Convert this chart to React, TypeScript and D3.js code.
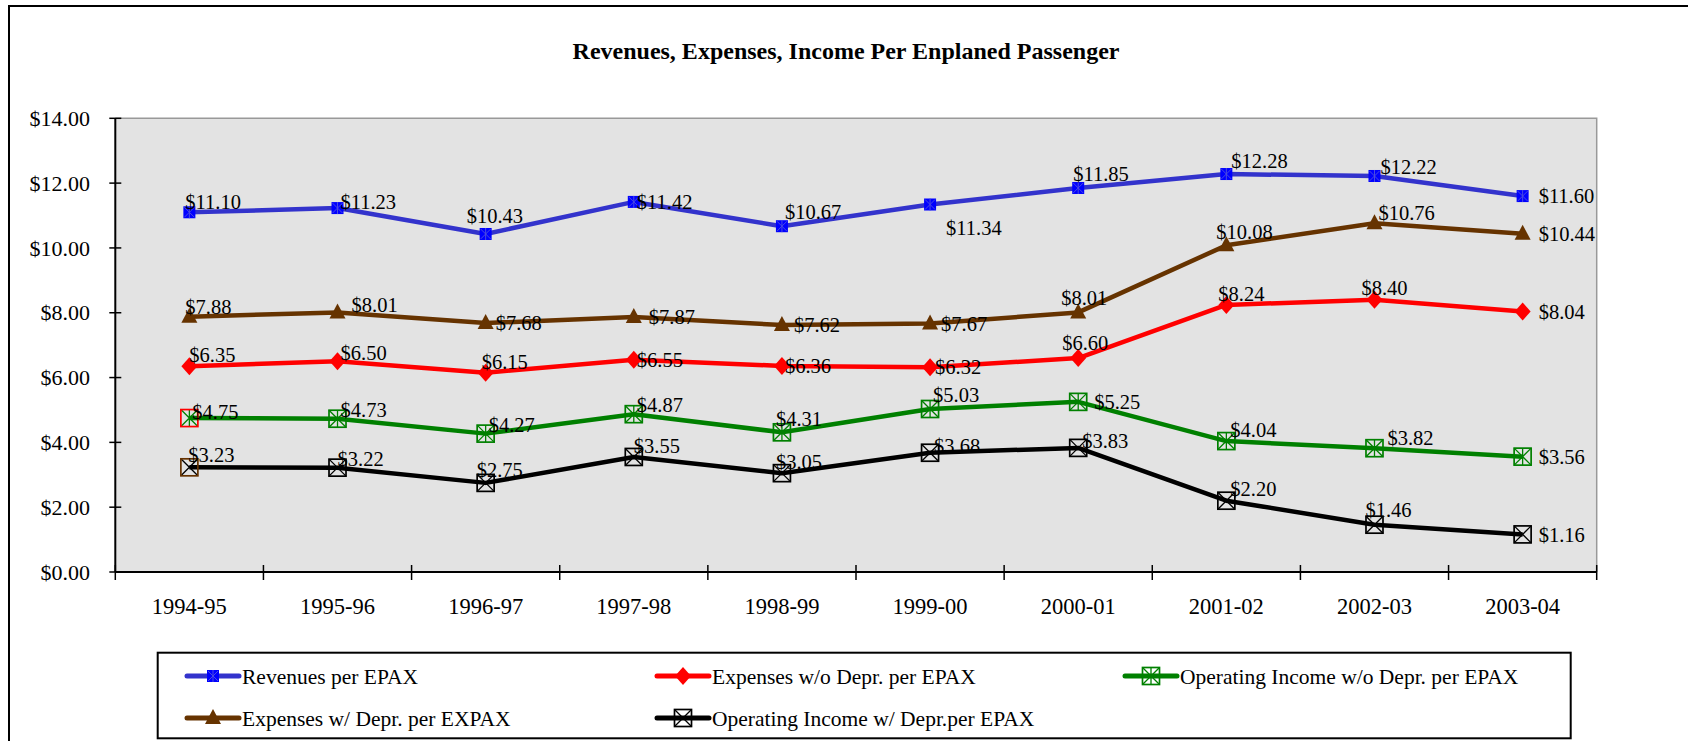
import React from 'react'
import * as d3 from 'd3'

// values
const years = ['1994-95', '1995-96', '1996-97', '1997-98', '1998-99', '1999-00', '2000-01', '2001-02', '2002-03', '2003-04']
const revenues = [11.1, 11.23, 10.43, 11.42, 10.67, 11.34, 11.85, 12.28, 12.22, 11.6]
const expensesWoDepr = [6.35, 6.5, 6.15, 6.55, 6.36, 6.32, 6.6, 8.24, 8.4, 8.04]
const opIncomeWoDepr = [4.75, 4.73, 4.27, 4.87, 4.31, 5.03, 5.25, 4.04, 3.82, 3.56]
const expensesWDepr = [7.88, 8.01, 7.68, 7.87, 7.62, 7.67, 8.01, 10.08, 10.76, 10.44]
const opIncomeWDepr = [3.23, 3.22, 2.75, 3.55, 3.05, 3.68, 3.83, 2.2, 1.46, 1.16]
const yTicks = [0, 2, 4, 6, 8, 10, 12, 14]

// label nudges (dx to text start, dy to text middle), as placed in the original
const revNudge = [[-4, -10], [3, -6], [-19, -18], [3, 0], [3, -14], [16, 23], [-5, -14], [5, -13], [6, -9], [16, 0]]
const expWoNudge = [[0, -11], [3, -9], [-4, -11], [3, 0], [3, 0], [5, 0], [-16, -15], [-8, -11], [-13, -12], [16, 0]]
const opWoNudge = [[3, -6], [3, -9], [3, -9], [3, -9], [-6, -14], [3, -14], [16, 0], [4, -11], [13, -10], [16, 0]]
const expWNudge = [[-4, -10], [14, -8], [10, 0], [15, 0], [12, 0], [11, 0], [-17, -15], [-10, -14], [4, -10], [16, 0]]
const opWNudge = [[-1, -12], [0, -9], [-9, -13], [0, -11], [-6, -11], [4, -7], [4, -7], [4, -12], [-9, -15], [16, 0]]

const W = 1688, H = 741
const plot = { left: 115.3, right: 1596.7, top: 118.3, bottom: 572 }
const FONT = '"Liberation Serif", "Times New Roman", serif'

type MarkerKind = 'blueSquare' | 'diamond' | 'triangle' | 'starBox' | 'xBox'

function Marker({ kind, x, y, color, outline }: { kind: MarkerKind; x: number; y: number; color: string; outline?: string }) {
  const t = `translate(${x},${y})`
  if (kind === 'blueSquare') {
    return (
      <g transform={t}>
        <rect x={-6} y={-6} width={12} height={12} fill="#0000ff" />
        <path d="M-5,-5L5,5M5,-5L-5,5M0,-6L0,6" stroke="#4a4ae0" strokeWidth={1} />
      </g>
    )
  }
  if (kind === 'diamond') return <path transform={t} d="M0,-9L8,0L0,9L-8,0Z" fill={color} />
  if (kind === 'triangle') return <path transform={t} d="M0,-9L8,6L-8,6Z" fill={color} />
  const box = outline || color
  const r = 8.5
  return (
    <g transform={t} fill="none">
      <path d={kind === 'starBox' ? `M${-r},${-r}L${r},${r}M${r},${-r}L${-r},${r}M0,${-r}L0,${r}` : `M${-r},${-r}L${r},${r}M${r},${-r}L${-r},${r}`} stroke={color} strokeWidth={1.3} />
      <rect x={-r} y={-r} width={2 * r} height={2 * r} stroke={box} strokeWidth={1.7} />
    </g>
  )
}

const series = [
  { name: 'Revenues per EPAX', values: revenues, color: '#3333cc', marker: 'blueSquare' as MarkerKind, nudge: revNudge },
  { name: 'Expenses w/o Depr. per EPAX', values: expensesWoDepr, color: '#ff0000', marker: 'diamond' as MarkerKind, nudge: expWoNudge },
  { name: 'Operating Income w/o Depr. per EPAX', values: opIncomeWoDepr, color: '#008000', marker: 'starBox' as MarkerKind, nudge: opWoNudge, firstOutline: '#ff0000' },
  { name: 'Expenses w/ Depr. per EXPAX', values: expensesWDepr, color: '#663300', marker: 'triangle' as MarkerKind, nudge: expWNudge },
  { name: 'Operating Income w/ Depr.per EPAX', values: opIncomeWDepr, color: '#000000', marker: 'xBox' as MarkerKind, nudge: opWNudge, firstOutline: '#663300' },
]

// legend slots: [line start x, row y]
const legendSlots = [[187, 676], [657, 676], [1125, 676], [187, 718], [657, 718]]

export default function App() {
  const x = d3.scaleBand<string>().domain(years).range([plot.left, plot.right])
  const y = d3.scaleLinear().domain([0, 14]).range([plot.bottom, plot.top])
  const cx = (d: string) => (x(d) as number) + x.bandwidth() / 2
  const line = d3.line<number>().x((_, i) => cx(years[i])).y(v => y(v))
  const fmt = (v: number) => '$' + d3.format('.2f')(v)
  const xEdges = [...years.map(d => x(d) as number), plot.right]

  return (
    <svg width={W} height={H} style={{ position: 'absolute', left: 0, top: 0, background: '#fff' }} fontFamily={FONT}>
      <rect x={9} y={6} width={W + 20} height={H + 20} fill="#fff" stroke="#000" strokeWidth={2} />
      <text x={846} y={59} textAnchor="middle" fontSize={24} fontWeight="bold">Revenues, Expenses, Income Per Enplaned Passenger</text>

      <rect x={plot.left} y={plot.top} width={plot.right - plot.left} height={plot.bottom - plot.top} fill="#e3e3e3" />
      <path d={`M${plot.left},${plot.top}H${plot.right}V${plot.bottom}`} fill="none" stroke="#999" strokeWidth={1.5} />

      {yTicks.map(t => (
        <g key={t}>
          <line x1={plot.left - 6} x2={plot.left + 6} y1={y(t)} y2={y(t)} stroke="#000" strokeWidth={1.5} />
          <text x={90} y={y(t)} dy="0.35em" textAnchor="end" fontSize={22}>{fmt(t)}</text>
        </g>
      ))}
      {xEdges.map((e, i) => (
        <line key={i} x1={e} x2={e} y1={plot.bottom - 7} y2={plot.bottom + 8} stroke="#000" strokeWidth={1.5} />
      ))}
      {years.map(d => (
        <text key={d} x={cx(d)} y={606} dy="0.35em" textAnchor="middle" fontSize={22.5}>{d}</text>
      ))}
      <line x1={plot.left} x2={plot.left} y1={plot.top} y2={plot.bottom} stroke="#000" strokeWidth={2} />
      <line x1={plot.left} x2={plot.right} y1={plot.bottom} y2={plot.bottom} stroke="#000" strokeWidth={2} />

      {series.map(s => (
        <g key={s.name}>
          <path d={line(s.values) || ''} fill="none" stroke={s.color} strokeWidth={4.5} strokeLinejoin="round" />
          {s.values.map((v, i) => (
            <Marker key={i} kind={s.marker} x={cx(years[i])} y={y(v)} color={s.color} outline={i === 0 ? s.firstOutline : undefined} />
          ))}
        </g>
      ))}
      {series.map(s => (
        <g key={s.name + '-labels'}>
          {s.values.map((v, i) => (
            <text key={i} x={cx(years[i]) + s.nudge[i][0]} y={y(v) + s.nudge[i][1]} dy="0.35em" fontSize={20.5}>{fmt(v)}</text>
          ))}
        </g>
      ))}

      <rect x={157.7} y={652.7} width={1413} height={85.6} fill="#fff" stroke="#000" strokeWidth={2} />
      {series.map((s, i) => {
        const [lx, ly] = legendSlots[i]
        return (
          <g key={s.name + '-legend'}>
            <line x1={lx} x2={lx + 52} y1={ly} y2={ly} stroke={s.color} strokeWidth={5} strokeLinecap="round" />
            <Marker kind={s.marker} x={lx + 26} y={ly} color={s.color} />
            <text x={lx + 55} y={ly} dy="0.35em" fontSize={21.5}>{s.name}</text>
          </g>
        )
      })}
    </svg>
  )
}
